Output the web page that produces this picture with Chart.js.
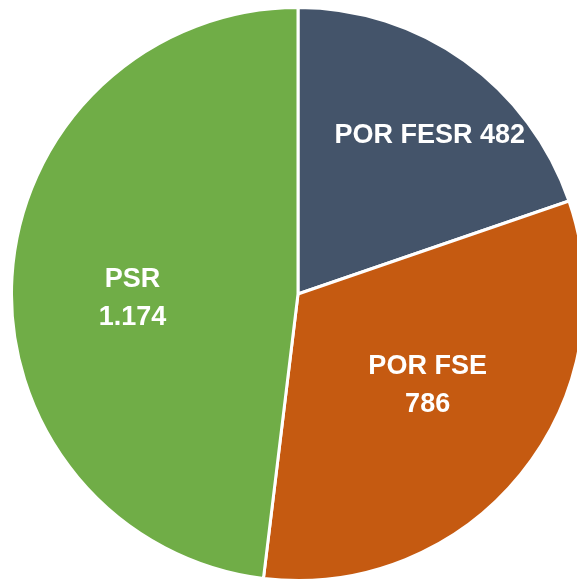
<!DOCTYPE html>
<html>
<head>
<meta charset="utf-8">
<script src="https://cdn.jsdelivr.net/npm/chart.js@4.4.0/dist/chart.umd.min.js"></script>
<style>
    html, body {
        margin: 0;
        padding: 0;
        background: #ffffff;
        overflow: hidden;
        width: 577px;
        height: 583px;
    }
    #wrap {
        position: absolute;
        left: 10px;
        top: 6px;
        width: 576px;
        height: 576px;
    }
</style>
</head>
<body>
<div id="wrap"><canvas id="pie"></canvas></div>
<script>
var labels = ['POR FESR', 'POR FSE', 'PSR'];
var values = [482, 786, 1174];
var colors = ['#44546A', '#C55A11', '#70AD47'];

// where each label sits: shift of angle (deg) from slice middle, and share of radius
var labelTurn = [4.2, -3.9, -5.2];
var labelDist = [0.72, 0.553, 0.578];
var labelLines = [false, true, true];

function itNum(v) {
    return v.toLocaleString('it-IT');
}

var sliceLabels = {
    id: 'sliceLabels',
    afterDatasetsDraw: function (chart) {
        var ctx = chart.ctx;
        var meta = chart.getDatasetMeta(0);
        ctx.save();
        ctx.fillStyle = '#ffffff';
        ctx.font = 'bold 27px "Liberation Sans", Arial, sans-serif';
        ctx.textAlign = 'center';
        ctx.textBaseline = 'middle';
        meta.data.forEach(function (arc, i) {
            var p = arc.getProps(['x', 'y', 'startAngle', 'endAngle', 'outerRadius'], true);
            var a = (p.startAngle + p.endAngle) / 2 + labelTurn[i] * Math.PI / 180;
            var r = p.outerRadius * labelDist[i];
            var x = p.x + Math.cos(a) * r;
            var y = p.y + Math.sin(a) * r;
            var num = itNum(values[i]);
            if (labelLines[i]) {
                ctx.fillText(labels[i], x, y - 19);
                ctx.fillText(num, x, y + 19);
            } else {
                ctx.fillText(labels[i] + ' ' + num, x, y);
            }
        });
        ctx.restore();
    }
};

var pie = document.getElementById('pie').getContext('2d');
var myChart = new Chart(pie, {
    type: 'pie',
    data: {
        labels: labels,
        datasets: [{
            data: values,
            backgroundColor: colors,
            borderColor: '#ffffff',
            borderWidth: 3
        }]
    },
    options: {
        responsive: true,
        maintainAspectRatio: false,
        animation: false,
        layout: { padding: 0 },
        plugins: {
            legend: { display: false },
            tooltip: { enabled: false }
        }
    },
    plugins: [sliceLabels]
});
</script>
</body>
</html>
